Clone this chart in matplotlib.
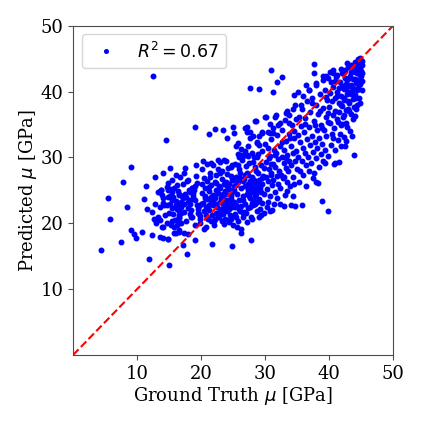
import matplotlib
matplotlib.use("Agg")
import matplotlib.pyplot as plt
import numpy as np

plt.rcParams['font.family'] = 'serif'
plt.rcParams['font.serif'] = ['DejaVu Serif']
plt.rcParams['mathtext.fontset'] = 'dejavusans'

# (ground truth, predicted) pairs, grouped by region
outlier_pts = [
    (4.4, 16.0), (5.4, 23.9), (5.8, 20.7), (7.5, 17.1), (7.8, 26.2), (8.4, 22.5),
    (9.1, 28.6), (9.1, 19.0), (9.5, 18.3), (9.8, 17.8), (10.7, 18.7), (11.1, 23.7),
    (11.4, 25.7), (11.5, 22.2), (11.9, 14.6), (12.3, 21.7), (12.3, 18.2), (12.5, 42.4),
    (12.6, 20.7), (12.8, 27.1), (12.9, 20.0), (13.3, 24.7), (13.6, 17.9), (13.8, 25.1),
    (13.9, 19.4), (14.1, 27.6), (14.2, 22.8), (14.5, 32.6), (14.8, 17.6), (14.9, 25.1),
    (15.0, 13.6), (15.1, 28.4), (15.3, 19.8), (15.4, 26.6), (15.5, 23.6), (15.7, 18.5),
    (16.1, 27.4), (16.2, 25.8), (16.3, 20.5), (16.5, 21.3), (16.6, 24.3), (16.7, 22.8),
    (17.2, 16.7), (17.3, 18.5), (17.4, 27.6), (17.5, 28.4), (17.8, 15.3), (18.0, 26.6),
    (18.2, 23.0), (18.4, 21.0), (18.6, 25.3), (19.0, 34.6), (19.1, 17.5), (19.2, 28.9),
    (19.5, 21.5), (19.8, 20.0), (20.2, 26.0), (20.3, 29.5), (20.5, 19.1), (20.6, 24.1),
    (20.9, 20.8), (21.3, 33.6), (21.4, 27.6), (21.5, 29.1), (21.7, 16.9), (21.9, 23.6),
    (22.2, 34.3), (22.4, 26.1), (22.6, 29.6), (22.7, 21.5), (23.0, 27.6), (23.3, 24.1),
    (23.5, 34.2), (23.6, 29.6), (23.9, 26.3), (24.0, 32.9), (24.3, 20.5), (24.6, 28.6),
    (24.8, 16.5), (25.1, 33.7), (25.2, 25.6), (25.3, 22.5), (25.7, 32.2), (25.9, 30.1),
    (26.1, 27.6), (26.2, 18.5), (26.5, 21.5), (26.9, 34.4), (27.2, 33.8), (27.4, 31.7),
    (27.6, 40.6), (27.8, 17.5), (27.9, 25.8), (28.1, 33.2), (28.3, 30.1), (28.5, 35.5),
    (28.7, 32.2), (29.0, 40.4), (29.1, 21.0), (29.5, 33.9), (30.0, 36.2), (30.3, 22.5),
    (30.6, 29.9), (30.7, 33.7), (30.9, 43.3), (31.1, 22.0), (31.2, 40.0), (31.4, 23.0),
    (31.6, 36.2), (31.9, 41.5), (32.3, 35.2), (32.6, 42.2), (33.0, 22.6), (33.2, 36.7),
    (33.5, 37.1), (33.7, 35.2), (34.5, 39.5), (34.7, 22.6), (35.2, 40.0), (35.8, 22.8),
    (36.4, 41.0), (36.8, 40.3), (37.6, 44.2), (37.7, 42.8), (37.9, 41.3), (38.0, 26.3),
    (38.9, 23.4), (39.0, 42.3), (39.4, 29.1), (39.8, 21.9), (39.9, 42.0), (40.7, 43.3),
    (41.0, 29.1), (42.5, 31.7), (42.8, 44.3), (43.9, 30.4), (44.3, 38.0),
]

left_pts = [
    (16.0, 23.4), (16.2, 22.1), (16.4, 24.9), (16.6, 21.9), (16.8, 23.3), (17.0, 24.2),
    (16.3, 19.8), (16.5, 20.9), (16.9, 22.5), (17.1, 23.8), (17.4, 23.0), (17.6, 24.0),
    (17.9, 22.3), (18.1, 25.1), (18.3, 24.8), (18.5, 25.4), (18.7, 24.6), (18.9, 25.0),
    (19.1, 23.5), (19.3, 22.7), (19.5, 22.2), (19.7, 21.4), (18.2, 23.6), (18.4, 22.0),
    (18.6, 20.9), (18.8, 24.1), (19.0, 25.6), (19.4, 26.1), (19.6, 22.6), (19.9, 21.1),
    (17.3, 21.7), (17.7, 20.4), (17.2, 25.9), (16.7, 27.0), (15.8, 19.5), (14.4, 21.2),
    (14.0, 23.9), (13.5, 22.4), (19.2, 27.2), (18.0, 23.2), (17.5, 24.5), (19.8, 20.6),
    (16.1, 22.8), (15.2, 24.2), (15.7, 25.3), (14.7, 20.0), (13.2, 21.0), (12.8, 23.0),
    (14.9, 26.1), (17.8, 26.4), (18.3, 21.4), (19.0, 19.8), (16.6, 18.7), (17.9, 18.3),
    (13.9, 24.3), (13.6, 20.5), (12.9, 20.3), (14.1, 19.5), (13.4, 24.8), (13.7, 25.1),
    (14.6, 25.5), (15.1, 25.2), (15.4, 24.7), (14.8, 24.0), (15.6, 24.0), (14.1, 23.1),
    (14.6, 22.8), (15.1, 22.9), (15.4, 22.3), (15.0, 21.5), (15.6, 21.4), (15.9, 20.5),
    (15.5, 20.4), (16.5, 24.5), (16.7, 23.0), (16.8, 21.5), (16.6, 20.8), (16.9, 20.0),
    (16.6, 19.0), (16.1, 18.5), (14.8, 17.6), (14.1, 17.7),
]

mid_low_pts = [
    (20.1, 24.6), (20.3, 23.1), (20.4, 21.8), (20.6, 25.3), (20.8, 22.4), (20.9, 26.4),
    (21.0, 23.7), (21.1, 20.6), (21.2, 24.9), (21.3, 22.0), (21.4, 27.1), (21.5, 23.4),
    (21.6, 25.8), (21.7, 21.2), (21.8, 24.3), (21.9, 22.7), (22.0, 20.3), (22.1, 26.2),
    (22.2, 23.9), (22.3, 21.6), (22.4, 25.0), (22.5, 22.5), (22.6, 24.6), (22.7, 28.3),
    (22.8, 20.9), (22.9, 23.3), (23.0, 25.4), (23.1, 22.1), (23.2, 26.8), (23.3, 24.0),
    (23.4, 21.4), (23.5, 23.0), (23.6, 25.9), (23.7, 20.6), (23.8, 22.6), (23.9, 24.5),
    (24.0, 27.5), (24.1, 21.9), (24.2, 23.6), (24.3, 20.2), (24.4, 25.2), (24.5, 22.9),
    (24.6, 24.1), (24.7, 21.0), (24.8, 26.5), (24.9, 23.3), (25.0, 19.8), (20.2, 28.2),
    (20.7, 19.5), (21.0, 29.0), (21.8, 28.9), (22.0, 19.8), (22.4, 27.3), (22.9, 29.3),
    (23.3, 28.0), (23.6, 19.9), (23.9, 29.5), (24.2, 28.4), (24.6, 27.2), (24.9, 28.9),
    (20.5, 26.9), (21.3, 25.5), (22.1, 24.2), (22.6, 21.0), (23.1, 23.8), (23.8, 24.9),
    (24.4, 22.2), (24.8, 24.8), (20.0, 22.9), (21.5, 20.4), (22.8, 25.7), (23.5, 22.2),
    (24.0, 23.0), (24.3, 26.0), (24.7, 23.7), (21.9, 23.1), (22.3, 22.9), (23.4, 24.4),
    (24.1, 25.6), (24.6, 20.6), (23.0, 21.8), (22.2, 20.7), (20.8, 21.3), (21.6, 24.0),
    (23.7, 23.5), (24.5, 21.3), (24.9, 22.4), (23.2, 20.3), (21.2, 22.8), (20.6, 23.9),
]

mid_pts = [
    (25.1, 23.2), (25.2, 25.0), (25.3, 21.4), (25.4, 27.0), (25.5, 22.8), (25.6, 24.5),
    (25.7, 20.4), (25.8, 26.2), (25.9, 23.6), (26.0, 28.3), (26.1, 21.9), (26.2, 25.3),
    (26.3, 22.6), (26.4, 29.6), (26.5, 24.1), (26.6, 20.9), (26.7, 26.8), (26.8, 23.0),
    (26.9, 25.7), (27.0, 21.6), (27.1, 24.4), (27.2, 27.6), (27.3, 22.3), (27.4, 25.1),
    (27.5, 29.1), (27.6, 23.8), (27.7, 26.4), (27.8, 21.0), (27.9, 24.7), (28.0, 27.0),
    (28.1, 22.7), (28.2, 25.5), (28.3, 23.4), (28.4, 28.6), (28.5, 24.2), (28.6, 26.1),
    (28.7, 21.8), (28.8, 25.0), (28.9, 27.7), (29.0, 23.7), (29.1, 26.5), (29.2, 22.2),
    (29.3, 24.8), (29.4, 28.9), (29.5, 25.9), (29.6, 23.1), (29.7, 27.2), (29.8, 24.4),
    (29.9, 21.5), (27.3, 26.0), (27.6, 25.4), (27.8, 25.9), (28.0, 24.9), (28.2, 26.6),
    (28.4, 25.2), (28.6, 24.5), (28.8, 26.0), (29.0, 25.5), (27.5, 24.2), (27.9, 23.1),
    (28.3, 25.8), (28.7, 23.3), (29.2, 25.3), (26.5, 26.4), (26.9, 27.3), (25.4, 25.8),
    (25.8, 28.9), (26.2, 30.4), (26.8, 31.0), (27.3, 30.2), (25.6, 19.5), (26.3, 19.2),
    (27.1, 20.2), (28.0, 20.6), (29.4, 21.3), (25.0, 26.6), (25.9, 22.1), (26.6, 23.6),
    (27.7, 22.5), (28.5, 22.9), (29.6, 26.9), (29.9, 28.4), (26.1, 26.9), (25.3, 29.0),
    (27.0, 28.7), (28.1, 29.3), (28.9, 30.5), (29.5, 31.0), (26.7, 21.7), (25.5, 21.0),
    (28.6, 27.9), (27.4, 27.4), (25.0, 34.7), (27.1, 34.6), (27.7, 33.9), (28.6, 35.6),
    (29.0, 33.3), (27.7, 32.9), (28.8, 32.4), (29.0, 31.9), (25.8, 30.5), (26.5, 30.2),
    (27.2, 30.4), (27.9, 30.6), (28.7, 30.1), (29.6, 33.7), (26.2, 31.3), (25.5, 31.8),
    (30.2, 36.1), (30.8, 35.1), (31.7, 36.5), (30.4, 33.9), (31.3, 33.7),
]

mid_high_pts = [
    (30.1, 27.0), (30.2, 29.3), (30.3, 25.2), (30.4, 31.5), (30.5, 26.4), (30.6, 28.2),
    (30.7, 24.1), (30.8, 30.2), (30.9, 27.7), (31.0, 32.8), (31.1, 25.8), (31.2, 29.0),
    (31.3, 26.6), (31.4, 31.2), (31.5, 28.5), (31.6, 24.7), (31.7, 30.6), (31.8, 27.2),
    (31.9, 33.4), (32.0, 26.0), (32.1, 29.8), (32.2, 28.0), (32.3, 31.8), (32.4, 25.4),
    (32.5, 27.4), (32.6, 30.0), (32.7, 34.1), (32.8, 26.9), (32.9, 29.1), (33.0, 31.2),
    (33.1, 24.3), (33.2, 28.4), (33.3, 32.5), (33.4, 26.3), (33.5, 30.3), (33.6, 27.9),
    (33.7, 33.6), (33.8, 29.5), (33.9, 25.6), (34.0, 31.7), (34.1, 28.8), (34.2, 34.9),
    (34.3, 27.1), (34.4, 30.7), (34.5, 32.9), (34.6, 26.0), (34.7, 29.4), (34.8, 35.8),
    (34.9, 31.0), (35.0, 28.2), (30.5, 23.3), (31.9, 23.8), (32.4, 23.0), (33.5, 24.9),
    (34.4, 24.2), (30.0, 32.0), (31.2, 34.5), (32.0, 35.0), (33.1, 35.7), (33.8, 36.4),
    (34.3, 37.3), (34.7, 38.0), (30.7, 21.9), (34.1, 22.8), (32.6, 32.4), (31.5, 30.4),
    (30.9, 29.0), (33.9, 33.0), (34.6, 34.0), (32.9, 27.0), (31.0, 27.4), (33.3, 29.9),
]

right_pts = [
    (35.1, 33.4), (35.2, 30.1), (35.3, 36.2), (35.4, 28.0), (35.5, 32.3), (35.6, 34.8),
    (35.7, 29.4), (35.8, 37.4), (35.9, 31.5), (36.0, 27.4), (36.1, 33.8), (36.2, 30.7),
    (36.3, 36.0), (36.4, 28.9), (36.5, 32.8), (36.6, 38.5), (36.7, 30.0), (36.8, 34.6),
    (36.9, 27.9), (37.0, 31.9), (37.1, 36.9), (37.2, 29.2), (37.3, 33.3), (37.4, 39.1),
    (37.5, 30.9), (37.6, 35.5), (37.7, 27.6), (37.8, 32.4), (37.9, 37.9), (38.0, 29.9),
    (38.1, 34.2), (38.2, 31.4), (38.3, 36.6), (38.4, 28.6), (38.5, 33.0), (38.6, 39.6),
    (38.7, 30.5), (38.8, 35.0), (38.9, 32.0), (39.0, 37.5), (39.1, 29.5), (39.2, 34.1),
    (39.3, 40.2), (39.4, 31.1), (39.5, 36.1), (39.6, 33.2), (39.7, 38.7), (39.8, 30.2),
    (39.9, 35.4), (35.3, 26.3), (36.4, 25.6), (37.5, 26.9), (38.3, 26.1), (35.9, 39.4),
    (36.9, 40.3), (38.0, 41.0), (39.1, 41.7), (37.3, 38.2), (38.6, 37.0), (39.5, 39.2),
    (35.6, 38.0), (36.2, 35.1), (37.8, 34.9), (38.9, 34.4), (39.8, 36.7),
]

top_pts = [
    (40.0, 37.6), (40.1, 39.8), (40.2, 35.2), (40.3, 41.4), (40.4, 33.6), (40.5, 38.6),
    (40.6, 36.4), (40.7, 40.7), (40.8, 34.5), (40.9, 39.1), (41.0, 37.0), (41.1, 42.2),
    (41.2, 35.8), (41.3, 40.0), (41.4, 32.7), (41.5, 38.2), (41.6, 36.9), (41.7, 41.5),
    (41.8, 34.9), (41.9, 39.4), (42.0, 37.8), (42.1, 42.9), (42.2, 36.1), (42.3, 40.4),
    (42.4, 38.8), (42.5, 43.3), (42.6, 35.3), (42.7, 41.1), (42.8, 39.6), (42.9, 37.3),
    (43.0, 43.8), (43.1, 40.8), (43.2, 38.3), (43.3, 42.4), (43.4, 36.6), (43.5, 44.1),
    (43.6, 40.1), (43.7, 41.9), (43.8, 38.9), (43.9, 43.2), (44.0, 39.5), (44.1, 44.5),
    (44.2, 41.3), (44.3, 42.8), (44.4, 40.3), (44.5, 43.9), (44.6, 41.8), (44.7, 44.8),
    (44.8, 42.5), (44.9, 43.6), (45.0, 44.3), (45.1, 42.9), (45.2, 44.0), (44.6, 45.0),
    (44.9, 45.1), (45.1, 44.7), (44.3, 44.0), (44.0, 43.0), (43.7, 43.5), (43.4, 41.0),
    (43.1, 42.0), (42.8, 41.8), (42.6, 40.6), (42.3, 39.0), (42.0, 40.9), (41.8, 38.0),
    (41.5, 40.6), (41.2, 39.3), (40.9, 41.6), (44.8, 41.2), (45.0, 42.4), (44.5, 40.6),
    (44.2, 39.1), (43.9, 37.6), (43.5, 39.7), (43.2, 37.0), (42.9, 38.6), (42.6, 37.2),
    (42.3, 36.4), (42.0, 35.1), (41.7, 33.6), (41.4, 35.4), (41.0, 31.2), (40.6, 33.0),
    (40.3, 31.9), (42.8, 34.7), (43.3, 34.0), (43.8, 35.8), (44.2, 37.4), (44.7, 39.0),
    (45.1, 40.2), (45.2, 41.6), (44.9, 38.3), (43.6, 33.2), (42.4, 33.1), (41.9, 31.8),
    (40.8, 29.0), (41.6, 29.3), (42.7, 32.5), (44.0, 36.3), (43.0, 39.9), (43.4, 43.0),
    (44.4, 43.4), (44.7, 43.0), (45.0, 43.2), (44.1, 41.9), (43.8, 40.6), (42.5, 42.0),
    (41.9, 43.4), (41.3, 42.6), (40.6, 42.8), (40.1, 43.0), (39.6, 42.3),
]

r2_value = 0.67
axis_limits = [0, 50]
tick_values = [10, 20, 30, 40, 50]

all_pts = outlier_pts + left_pts + mid_low_pts + mid_pts + mid_high_pts + right_pts + top_pts
gt = np.array([p[0] for p in all_pts])
pred = np.array([p[1] for p in all_pts])

fig = plt.figure(figsize=(4.23, 4.23), dpi=100)
ax = fig.add_axes([0.173, 0.161, 0.756, 0.778])

ax.plot(gt, pred, '.', color='blue', markersize=6.5, label=r'$R^2=%.2f$' % r2_value)
ax.plot(axis_limits, axis_limits, '--', color='red', linewidth=1.5)

ax.set_xlim(axis_limits)
ax.set_ylim(axis_limits)
ax.set_xticks(tick_values)
ax.set_yticks(tick_values)
ax.tick_params(labelsize=13, color='0.3')
for s in ax.spines.values():
    s.set_color('0.3')
ax.set_xlabel(r'Ground Truth $\mu$ [GPa]', fontsize=13, labelpad=2)
ax.set_ylabel(r'Predicted $\mu$ [GPa]', fontsize=13, labelpad=1)
leg = ax.legend(loc='upper left', fontsize=12.5, numpoints=1, markerscale=0.8)

fig.savefig('out.png', dpi=100)
